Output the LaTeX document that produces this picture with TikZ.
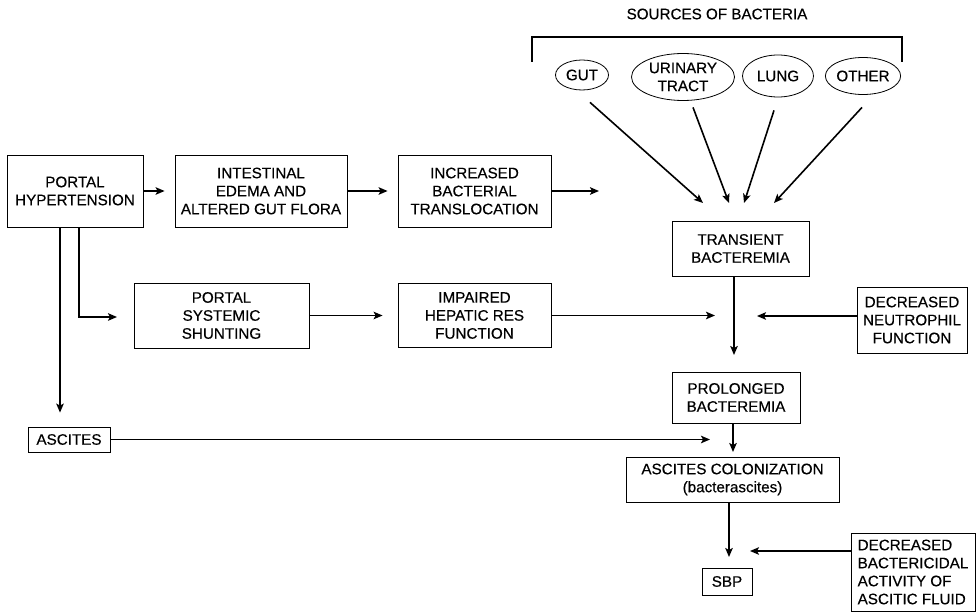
\documentclass[tikz,border=0pt]{standalone}
\usepackage{fontspec}
\setmainfont{Liberation Sans}[FakeBold=0.4]
\usetikzlibrary{shapes.geometric,arrows.meta,calc}
\begin{document}
\begin{tikzpicture}[x=1pt,y=-1pt,
  txt/.style={font=\fontsize{15.2}{18}\selectfont},
  box/.style={txt, draw, line width=0.8pt, inner sep=0pt, align=center},
  src/.style={txt, draw, ellipse, line width=0.8pt, inner sep=0pt, align=center},
  arr/.style={line width=1.6pt, -{Stealth[length=9pt,width=7.5pt,inset=2pt]}},
  bracket/.style={line width=1.5pt}]
\useasboundingbox (0,0) rectangle (980,612);
% boxes
\node[box, minimum width=136pt, minimum height=72pt] (ph) at (75,191) {PORTAL\\HYPERTENSION};
\node[box, minimum width=172pt, minimum height=72pt] (ie) at (261,191) {INTESTINAL\\EDEMA AND\\ALTERED GUT FLORA};
\node[box, minimum width=153pt, minimum height=72pt] (ibt) at (474.5,191) {INCREASED\\BACTERIAL\\TRANSLOCATION};
\node[box, minimum width=175pt, minimum height=65pt] (pss) at (221.5,315.5) {PORTAL\\SYSTEMIC\\SHUNTING};
\node[box, minimum width=153pt, minimum height=64pt] (ihr) at (474.5,315.5) {IMPAIRED\\HEPATIC RES\\FUNCTION};
\node[box, minimum width=137pt, minimum height=55pt] (tb) at (740.5,248.5) {TRANSIENT\\BACTEREMIA};
\node[box, minimum width=110pt, minimum height=66pt] (dnf) at (912,320) {DECREASED\\NEUTROPHIL\\FUNCTION};
\node[box, minimum width=128pt, minimum height=51pt] (pb) at (736,397.5) {PROLONGED\\BACTEREMIA};
\node[box, minimum width=82pt, minimum height=25pt] (asc) at (69,439.5) {ASCITES};
\node[box, minimum width=213pt, minimum height=45pt] (ac) at (732.5,479.5) {ASCITES COLONIZATION\\(bacterascites)};
\node[box, minimum width=50pt, minimum height=27pt] (sbp) at (727,581.5) {SBP};
\node[box, align=left, minimum width=124pt, minimum height=78pt] (dba) at (913,572) {DECREASED\\BACTERICIDAL\\ACTIVITY OF\\ASCITIC FLUID};
% sources
\node[txt] (srct) at (717,14) {SOURCES OF BACTERIA};
\draw[bracket] (532,62) -- (532,37) -- (902,37) -- (902,62);
\node[src, minimum width=53pt, minimum height=30pt] (gut) at (582,75) {GUT};
\node[src, minimum width=103pt, minimum height=47pt] (uri) at (683,77) {URINARY\\TRACT};
\node[src, minimum width=71pt, minimum height=42pt] (lung) at (778,76) {LUNG};
\node[src, minimum width=72pt, minimum height=37pt] (oth) at (863,76) {OTHER};
% free arrow ends
\coordinate (tgut) at (703,203);
\coordinate (turi) at (729,203);
\coordinate (tlung) at (744,203);
\coordinate (toth) at (774,203);
\coordinate (tibt) at (599,191);
\coordinate (tph) at (117,317);
\coordinate (j1) at (715,315.5);
\coordinate (j2) at (757,316);
\coordinate (j3) at (734,355);
\coordinate (j4) at (733,452);
\coordinate (j5) at (710,439.5);
\coordinate (j6) at (729,557);
\coordinate (j7) at (750,551);
% connectors
\draw[arr] ([shift={(8,12)}]gut.south) -- (tgut);
\draw[arr] ([shift={(10,6.5)}]uri.south) -- (turi);
\draw[arr] ([shift={(-4,13)}]lung.south) -- (tlung);
\draw[arr] ([shift={(-1,12.5)}]oth.south) -- (toth);
\draw[arr, shorten >=10pt] (ph.east) -- (ie.west);
\draw[arr, shorten >=10pt] (ie.east) -- (ibt.west);
\draw[arr] (ibt.east) -- (tibt);
\draw[arr] ([xshift=4pt]ph.south) |- (tph);
\draw[arr] ([xshift=-15pt]ph.south) -- ([shift={(-9,-14)}]asc.north);
\draw[arr, shorten >=15pt] (pss.east) -- (pss.east -| ihr.west);
\draw[arr] (ihr.east) -- (j1);
\draw[arr] (dnf.west |- j2) -- (j2);
\draw[arr] (tb.south -| j3) -- (j3);
\draw[arr] (pb.south -| j4) -- (j4);
\draw[arr] (asc.east) -- (j5);
\draw[arr] (ac.south -| j6) -- (j6);
\draw[arr] (dba.west |- j7) -- (j7);
\end{tikzpicture}
\end{document}
